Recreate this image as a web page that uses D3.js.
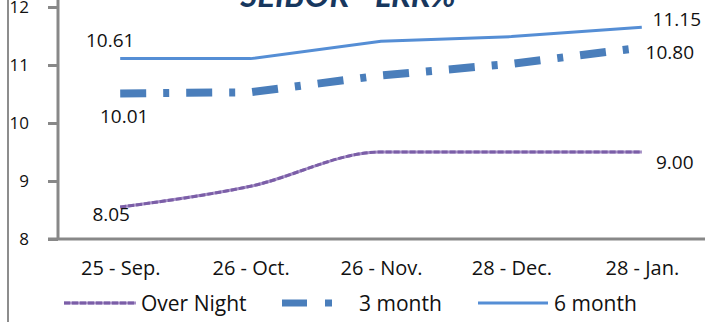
<!DOCTYPE html>
<html>
<head>
<meta charset="utf-8">
<script src="https://cdn.jsdelivr.net/npm/d3@7/dist/d3.min.js"></script>
<style>
  html, body { margin: 0; padding: 0; background: #fff; }
  svg { display: block; }
  text { font-family: "Open Sans", Lato, sans-serif; fill: #111; }
</style>
</head>
<body>
<svg id="chart" width="705" height="322"></svg>
<script>
// SEIBOR rates by tenor
const categories = ["25 - Sep.", "26 - Oct.", "26 - Nov.", "28 - Dec.", "28 - Jan."];
const overNight = [8.05, 8.41, 9.00, 9.00, 9.00];
const threeMonth = [10.01, 10.03, 10.32, 10.52, 10.80];
const sixMonth = [10.61, 10.61, 10.91, 10.99, 11.15];
const yTickLabels = [8, 9, 10, 11, 12];
const seriesNames = ["Over Night", "3 month", "6 month"];
const titleText = "SEIBOR - LRR%";

const svg = d3.select("#chart");
const W = 705, H = 322;
const plot = { left: 58, top: 7, bottom: 239 };

const x = d3.scalePoint().domain(categories).range([55, 707]).padding(0.5);
// printed axis scale
const yAxisScale = d3.scaleLinear().domain([8, 12]).range([plot.bottom, plot.top]);
// series sit half a point above the printed scale
const y = d3.scaleLinear().domain([7.5, 11.5]).range([plot.bottom, plot.top]);

const grey = "#888888";

// outer frame line on the left
svg.append("line")
  .attr("x1", 8).attr("x2", 8).attr("y1", 0).attr("y2", H)
  .attr("stroke", "#8d8d8d").attr("stroke-width", 2);

// title (runs off the top edge)
svg.append("text")
  .attr("x", 348).attr("y", 7)
  .attr("text-anchor", "middle")
  .style("font-family", "Lato, 'Open Sans', sans-serif")
  .style("font-size", "33px").style("font-weight", "bold").style("font-style", "italic")
  .style("fill", "#17375e")
  .text(titleText);

// y axis
const yAxis = d3.axisLeft(yAxisScale).tickValues(yTickLabels).tickFormat(d3.format("d"))
  .tickSize(10).tickSizeOuter(0).tickPadding(19);
const gy = svg.append("g").attr("transform", `translate(${plot.left},0)`).call(yAxis);
gy.select(".domain").remove();
gy.selectAll(".tick line").attr("stroke", grey).attr("stroke-width", 3);
gy.selectAll(".tick text").style("font-size", "17px").style("fill", "#111").attr("font-family", null);
svg.append("line")
  .attr("x1", plot.left).attr("x2", plot.left)
  .attr("y1", 0).attr("y2", plot.bottom)
  .attr("stroke", grey).attr("stroke-width", 3);

// x axis
const xAxis = d3.axisBottom(x).tickSize(0).tickPadding(22);
const gx = svg.append("g").attr("transform", `translate(0,${plot.bottom})`).call(xAxis);
gx.select(".domain").remove();
gx.selectAll(".tick text").style("font-size", "20px").style("fill", "#111").attr("font-family", null);
svg.append("line")
  .attr("x1", 48).attr("x2", W)
  .attr("y1", plot.bottom).attr("y2", plot.bottom)
  .attr("stroke", grey).attr("stroke-width", 3);

// series lines
const lineLinear = d3.line().x((d, i) => x(categories[i])).y(d => y(d));
const lineSmooth = d3.line().x((d, i) => x(categories[i])).y(d => y(d)).curve(d3.curveMonotoneX);

svg.append("path").datum(sixMonth).attr("d", lineLinear)
  .attr("fill", "none").attr("stroke", "#558ed5").attr("stroke-width", 3);

svg.append("path").datum(threeMonth).attr("d", lineLinear)
  .attr("fill", "none").attr("stroke", "#4a7ebb").attr("stroke-width", 8)
  .attr("stroke-dasharray", "26 17 6 17");

svg.append("path").datum(overNight).attr("d", lineSmooth)
  .attr("fill", "none").attr("stroke", "#a58fc6").attr("stroke-width", 3);
svg.append("path").datum(overNight).attr("d", lineSmooth)
  .attr("fill", "none").attr("stroke", "#7b5ea7").attr("stroke-width", 3)
  .attr("stroke-dasharray", "6 2");

// value labels at first and last points
const last = categories.length - 1;
const labels = [
  { v: sixMonth[0], i: 0, dx: -10, dy: -12 },
  { v: sixMonth[last], i: last, dx: 35, dy: -1 },
  { v: threeMonth[0], i: 0, dx: 4, dy: 30 },
  { v: threeMonth[last], i: last, dx: 28, dy: 11 },
  { v: overNight[0], i: 0, dx: -9, dy: 14 },
  { v: overNight[last], i: last, dx: 33, dy: 17 }
];
svg.append("g").selectAll("text").data(labels).join("text")
  .attr("x", d => x(categories[d.i]) + d.dx)
  .attr("y", d => y(d.v) + d.dy)
  .attr("text-anchor", "middle")
  .style("font-size", "19px")
  .text(d => d3.format(".2f")(d.v));

// legend
const ly = 303;
const lg = svg.append("g");
lg.append("line").attr("x1", 64).attr("x2", 136).attr("y1", ly).attr("y2", ly)
  .attr("stroke", "#a58fc6").attr("stroke-width", 3);
lg.append("line").attr("x1", 64).attr("x2", 136).attr("y1", ly).attr("y2", ly)
  .attr("stroke", "#7b5ea7").attr("stroke-width", 3).attr("stroke-dasharray", "6 2");
lg.append("text").attr("x", 141).attr("y", ly + 2).attr("dominant-baseline", "middle")
  .style("font-size", "21px").text(seriesNames[0]);

lg.append("line").attr("x1", 282).attr("x2", 333).attr("y1", ly).attr("y2", ly)
  .attr("stroke", "#4a7ebb").attr("stroke-width", 7).attr("stroke-dasharray", "25 18 7 18");
lg.append("text").attr("x", 359).attr("y", ly + 2).attr("dominant-baseline", "middle")
  .style("font-size", "21px").text(seriesNames[1]);

lg.append("line").attr("x1", 478).attr("x2", 548).attr("y1", ly).attr("y2", ly)
  .attr("stroke", "#558ed5").attr("stroke-width", 3);
lg.append("text").attr("x", 554).attr("y", ly + 2).attr("dominant-baseline", "middle")
  .style("font-size", "21px").text(seriesNames[2]);
</script>
</body>
</html>
